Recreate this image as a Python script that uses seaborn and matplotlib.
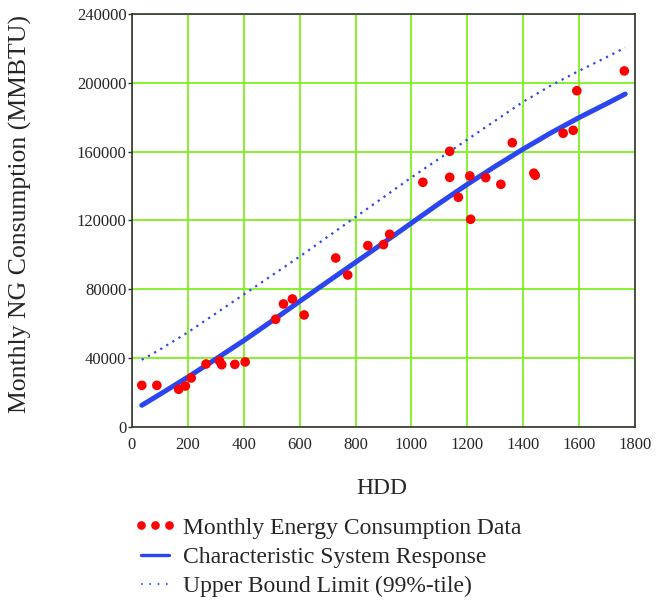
import numpy as np
import pandas as pd
import seaborn as sns
import matplotlib.pyplot as plt
from matplotlib.lines import Line2D

# monthly data points (HDD, MMBTU)
hdd = [35, 89, 167, 191, 212, 265, 313, 321, 368, 405,
       514, 542, 574, 616, 729, 772, 844, 900, 922, 1041,
       1137, 1137, 1168, 1209, 1212, 1266, 1320, 1361, 1438, 1443,
       1543, 1579, 1592, 1762]
consumption = [24200, 24200, 21900, 23800, 28500, 36600, 38400, 36200, 36400, 37800,
               62600, 71500, 74400, 65100, 98200, 88300, 105400, 106000, 112000, 142200,
               160200, 145100, 133500, 145900, 120700, 144900, 141000, 165200, 147500, 146300,
               170700, 172400, 195400, 206900]

# characteristic response and upper bound
curve_hdd = [35, 100, 200, 300, 400, 500, 600, 700, 800, 900,
             1000, 1100, 1200, 1300, 1400, 1500, 1600, 1700, 1765]
response = [12600, 19000, 29000, 39500, 50200, 61500, 73000, 84400, 95700, 107000,
            118500, 130000, 141000, 151500, 161500, 171000, 179800, 188000, 193500]
upper = [39000, 45000, 55000, 66000, 77000, 88000, 99000, 110500, 122000, 133500,
         145000, 156000, 167000, 178000, 189000, 198500, 207000, 215000, 220500]

x_ticks = list(range(0, 1801, 200))
y_ticks = list(range(0, 240001, 40000))

sns.set_style("white")
plt.rcParams['font.family'] = ['Liberation Serif', 'DejaVu Serif']

fig = plt.figure(figsize=(6.58, 6.03), dpi=100)
ax = fig.add_axes([0.2006, 0.2919, 0.7644, 0.6849])

blue = '#2b45f0'
sns.lineplot(x=curve_hdd, y=upper, ax=ax, color=blue, lw=1.6,
             linestyle=(0, (1, 2.2)), zorder=3)
sns.lineplot(x=curve_hdd, y=response, ax=ax, color=blue, lw=3.6, zorder=3)
sns.scatterplot(x=hdd, y=consumption, ax=ax, color='#ff0000', s=48,
                edgecolor='none', zorder=4)

ax.set_xlim(0, 1800)
ax.set_ylim(0, 240000)
ax.set_xticks(x_ticks)
ax.set_yticks(y_ticks)
ax.grid(True, color='#80f020', lw=1.3)
ax.set_axisbelow(True)
for s in ax.spines.values():
    s.set_color('#333333')
    s.set_linewidth(1.2)
ax.tick_params(axis='y', length=3, width=1, color='#333333', labelsize=12, pad=1, direction='out', left=True)
ax.tick_params(axis='x', length=0, labelsize=12, pad=7)
ax.set_xlabel('')
ax.set_ylabel('')

fig.text(20 / 658, 1 - 214 / 603, 'Monthly NG Consumption (MMBTU)', rotation=90,
         ha='center', va='center', fontsize=18.5)
fig.text(382 / 658, 1 - 488 / 603, 'HDD', ha='center', va='center', fontsize=17)

handles = [
    Line2D([], [], color='#ff0000', marker='o', linestyle='none', markersize=5.2),
    Line2D([], [], color=blue, lw=2.4),
    Line2D([], [], color=blue, lw=1.2, linestyle=(0, (1, 4))),
]
labels = ['Monthly Energy Consumption Data', 'Characteristic System Response',
          'Upper Bound Limit (99%-tile)']
fig.legend(handles, labels, loc='upper left', bbox_to_anchor=(134 / 658, 1 - 517 / 603),
           frameon=False, fontsize=17, numpoints=3, handlelength=1.8,
           handletextpad=0.28, labelspacing=0.33, borderaxespad=0, borderpad=0)

plt.savefig('out.png', dpi=100)
